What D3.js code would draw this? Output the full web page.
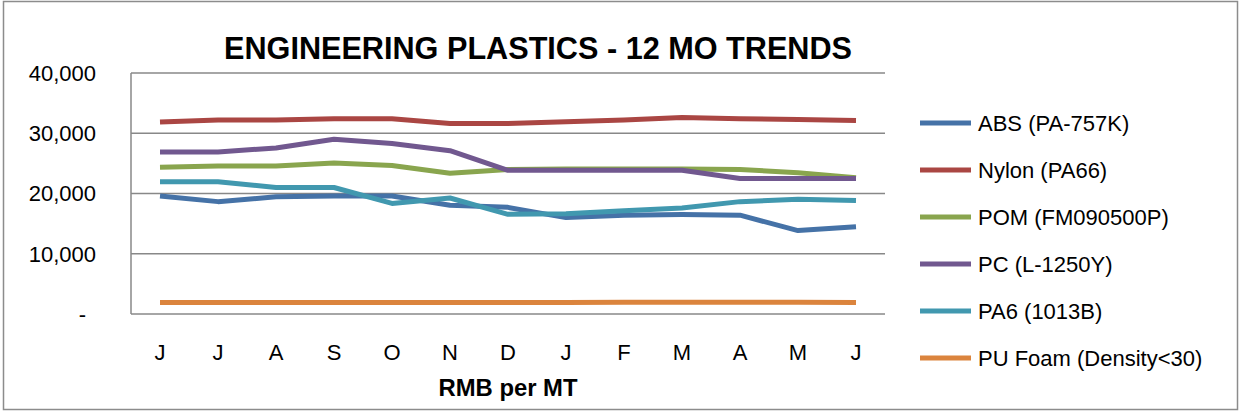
<!DOCTYPE html>
<html>
<head>
<meta charset="utf-8">
<script src="https://cdn.jsdelivr.net/npm/d3@7"></script>
<style>
  body { margin: 0; background: #fff; }
  text { font-family: "Liberation Sans", Arial, sans-serif; fill: #000; }
</style>
</head>
<body>
<script>
var months = ["J", "J", "A", "S", "O", "N", "D", "J", "F", "M", "A", "M", "J"];
var seriesNames = ["ABS (PA-757K)", "Nylon (PA66)", "POM (FM090500P)", "PC (L-1250Y)", "PA6 (1013B)", "PU Foam (Density<30)"];
var absVals   = [19600, 18650, 19450, 19600, 19600, 18050, 17700, 16000, 16400, 16500, 16400, 13850, 14500];
var nylonVals = [31850, 32200, 32200, 32400, 32400, 31600, 31600, 31900, 32200, 32600, 32400, 32300, 32100];
var pomVals   = [24350, 24550, 24550, 25050, 24650, 23350, 24000, 24050, 24050, 24050, 24000, 23450, 22600];
var pcVals    = [26900, 26900, 27550, 29000, 28300, 27100, 23850, 23850, 23850, 23850, 22500, 22500, 22500];
var pa6Vals   = [21950, 21950, 21000, 21000, 18350, 19250, 16550, 16650, 17150, 17600, 18650, 19050, 18850];
var puVals    = [1900, 1900, 1900, 1900, 1900, 1900, 1900, 1900, 1950, 1950, 1950, 1950, 1900];
var colors = ["#4572A7", "#AA4643", "#89A54E", "#71588F", "#4198AF", "#DB843D"];
var yTicks = [0, 10000, 20000, 30000, 40000];

var allSeries = [absVals, nylonVals, pomVals, pcVals, pa6Vals, puVals];

var w = 1244, h = 415;
var plotLeft = 131, plotRight = 885, plotTop = 73, plotBottom = 314;

var svg = d3.select("body").append("svg")
  .attr("width", w).attr("height", h);

// outer frame
svg.append("rect")
  .attr("x", 3.5).attr("y", 1.5)
  .attr("width", 1234).attr("height", 408)
  .attr("fill", "none").attr("stroke", "#8c8c8c").attr("stroke-width", 1.5);

var xScale = d3.scaleBand()
  .domain(d3.range(months.length))
  .range([plotLeft, plotRight]);

var yScale = d3.scaleLinear()
  .domain([0, 40000])
  .range([plotBottom, plotTop]);

// gridlines
svg.append("g").selectAll("line")
  .data(yTicks)
  .enter().append("line")
  .attr("x1", plotLeft).attr("x2", plotRight)
  .attr("y1", function(d) { return yScale(d); })
  .attr("y2", function(d) { return yScale(d); })
  .attr("stroke", "#888").attr("stroke-width", 1.5);

svg.append("line")
  .attr("x1", plotLeft).attr("x2", plotLeft)
  .attr("y1", plotTop).attr("y2", plotBottom)
  .attr("stroke", "#888").attr("stroke-width", 1.5);

// y labels
var fmt = d3.format(",");
svg.append("g").selectAll("text")
  .data(yTicks)
  .enter().append("text")
  .attr("x", function(d) { return d === 0 ? 86 : 96; })
  .attr("y", function(d) { return yScale(d); })
  .attr("dy", "0.36em")
  .attr("text-anchor", "end")
  .style("font-size", "22px")
  .text(function(d) { return d === 0 ? "-" : fmt(d); });

// x labels
svg.append("g").selectAll("text")
  .data(months)
  .enter().append("text")
  .attr("x", function(d, i) { return xScale(i) + xScale.bandwidth() / 2; })
  .attr("y", 360)
  .attr("text-anchor", "middle")
  .style("font-size", "22px")
  .text(function(d) { return d; });

svg.append("text")
  .attr("x", 508).attr("y", 396)
  .attr("text-anchor", "middle")
  .attr("textLength", 139).attr("lengthAdjust", "spacingAndGlyphs")
  .style("font-size", "23px").style("font-weight", "bold")
  .text("RMB per MT");

svg.append("text")
  .attr("x", 538).attr("y", 59)
  .attr("text-anchor", "middle")
  .attr("textLength", 628).attr("lengthAdjust", "spacingAndGlyphs")
  .style("font-size", "32px").style("font-weight", "bold")
  .text("ENGINEERING PLASTICS - 12 MO TRENDS");

var line = d3.line()
  .x(function(d, i) { return xScale(i) + xScale.bandwidth() / 2; })
  .y(function(d) { return yScale(d); });

svg.append("g").selectAll("path")
  .data(allSeries)
  .enter().append("path")
  .attr("d", line)
  .attr("fill", "none")
  .attr("stroke", function(d, i) { return colors[i]; })
  .attr("stroke-width", 5)
  .attr("stroke-linejoin", "round");

// legend
var lg = svg.append("g").selectAll("g")
  .data(seriesNames)
  .enter().append("g")
  .attr("transform", function(d, i) { return "translate(0," + (123 + i * 47) + ")"; });

lg.append("line")
  .attr("x1", 920).attr("x2", 971)
  .attr("y1", 0).attr("y2", 0)
  .attr("stroke", function(d, i) { return colors[i]; })
  .attr("stroke-width", 5);

lg.append("text")
  .attr("x", 978).attr("y", 0)
  .attr("dy", "0.36em")
  .style("font-size", "22px")
  .text(function(d) { return d; });
</script>
</body>
</html>
